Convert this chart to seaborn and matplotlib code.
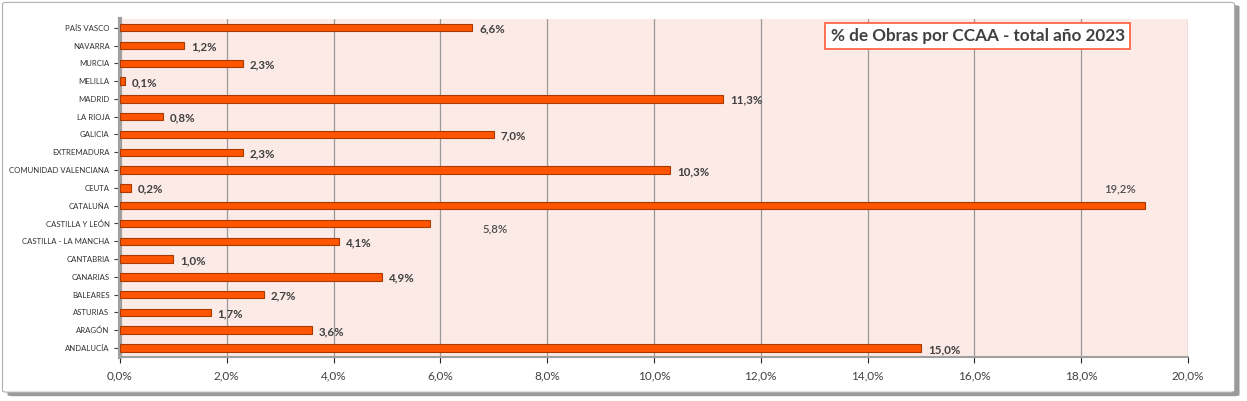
import matplotlib
matplotlib.use("Agg")
import matplotlib.pyplot as plt
import seaborn as sns
import pandas as pd
from matplotlib.patches import FancyBboxPatch

regions = ["PAÍS VASCO", "NAVARRA", "MURCIA", "MELILLA", "MADRID", "LA RIOJA",
           "GALICIA", "EXTREMADURA", "COMUNIDAD VALENCIANA", "CEUTA", "CATALUÑA",
           "CASTILLA Y LEÓN", "CASTILLA - LA MANCHA", "CANTABRIA", "CANARIAS",
           "BALEARES", "ASTURIAS", "ARAGÓN", "ANDALUCÍA"]
values = [6.6, 1.2, 2.3, 0.1, 11.3, 0.8, 7.0, 2.3, 10.3, 0.2, 19.2,
          5.8, 4.1, 1.0, 4.9, 2.7, 1.7, 3.6, 15.0]
x_ticks = [0, 2, 4, 6, 8, 10, 12, 14, 16, 18, 20]
title = "% de Obras por CCAA - total año 2023"

df = pd.DataFrame({"region": regions, "value": values})

sns.set_theme(style="white")
plt.rcParams["font.family"] = ["Lato", "DejaVu Sans"]

fig = plt.figure(figsize=(12.47, 4.01), dpi=100)
fig.patch.set_facecolor("white")

# outer frame with shadow
shadow = FancyBboxPatch((0.006, 0.012), 0.988, 0.975, boxstyle="round,pad=0,rounding_size=0.004",
                        transform=fig.transFigure, facecolor="#9a9a9a", edgecolor="none", zorder=0)
frame = FancyBboxPatch((0.002, 0.022), 0.988, 0.972, boxstyle="round,pad=0,rounding_size=0.004",
                       transform=fig.transFigure, facecolor="white", edgecolor="#b0b0b0",
                       linewidth=0.8, zorder=0.5)
fig.patches.extend([shadow, frame])

ax = fig.add_axes([0.0962, 0.11, 0.8565, 0.843])
ax.set_facecolor("#FBEAE6")
ax.set_zorder(2)

sns.barplot(data=df, x="value", y="region", orient="h", ax=ax, color="#FF5500",
            width=0.42, edgecolor="#A63A00", linewidth=0.8, saturation=1, zorder=3)

ax.set_xlim(0, 20)
ax.set_xticks(x_ticks)
ax.set_xticklabels([f"{t:.1f}%".replace(".", ",") for t in x_ticks], fontsize=8.5, color="#404040")
ax.tick_params(axis="y", labelsize=5.6, colors="#404040", length=4, width=0.8, left=True)
ax.tick_params(axis="x", length=4, width=0.8, bottom=True, pad=6)
for lbl in ax.get_yticklabels():
    lbl.set_color("#303030")
ax.set_xlabel("")
ax.set_ylabel("")
ax.grid(axis="x", color="#9a9a9a", linewidth=0.9, zorder=1)
ax.set_axisbelow(True)
for s in ["top", "right"]:
    ax.spines[s].set_visible(False)
ax.spines["left"].set_color("#a0a0a0")
ax.spines["left"].set_linewidth(3)
ax.spines["bottom"].set_color("#a0a0a0")
ax.spines["bottom"].set_linewidth(1.5)

for i, v in enumerate(values):
    txt = f"{v:.1f}%".replace(".", ",")
    if regions[i] == "CATALUÑA":
        ax.annotate(txt, (v, i), xytext=(-30, 12), textcoords="offset points",
                    fontsize=8.2, color="#505050", fontweight="semibold", va="center", ha="left")
    elif regions[i] == "CASTILLA Y LEÓN":
        ax.annotate(txt, (v, i), xytext=(38, -4), textcoords="offset points",
                    fontsize=8.2, color="#505050", fontweight="semibold", va="center", ha="left")
    else:
        ax.annotate(txt, (v, i), xytext=(5, -1), textcoords="offset points",
                    fontsize=8.3, color="#404040", fontweight="bold", va="center", ha="left")

ax.text(0.784, 0.91, title, transform=fig.transFigure, fontsize=12.3, fontweight="bold",
        color="#404040", ha="center", va="center",
        bbox=dict(boxstyle="square,pad=0.3", facecolor="white", edgecolor="#FF5A36", linewidth=1.2),
        zorder=5)

fig.savefig("out.png", dpi=100)
